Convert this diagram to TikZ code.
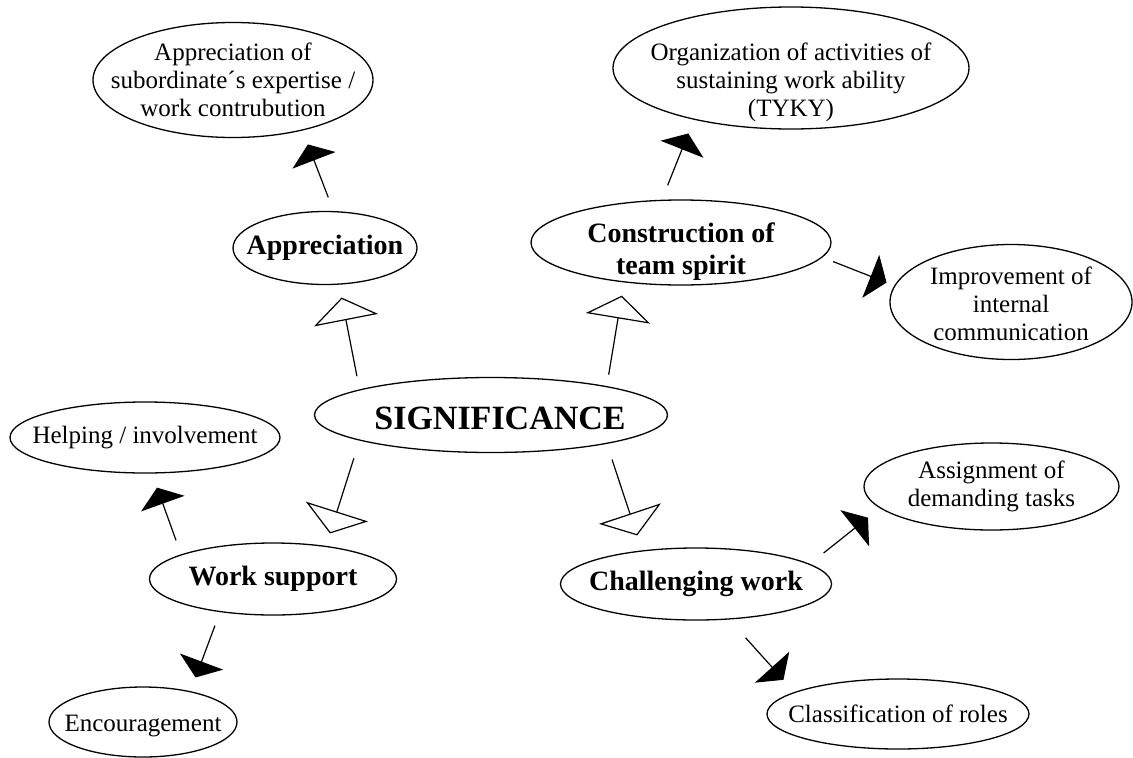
\documentclass[tikz,border=0pt]{standalone}
\usepackage{fontspec}
\setmainfont{Liberation Serif}
\usetikzlibrary{shapes.geometric,arrows.meta}
\tikzset{
  bubble/.style={draw,ellipse,line width=1.3pt,inner sep=0pt},
  smalltxt/.style={align=center,font=\fontsize{25}{28}\selectfont},
  bigtxt/.style={align=center,font=\fontsize{28}{32}\selectfont\bfseries},
  openarr/.style={line width=1.2pt,-{Triangle[open,width=65pt,length=23pt]}},
  fillarr/.style={line width=1.2pt,-{Triangle[width=46pt,length=17pt]}}
}
\begin{document}
\begin{tikzpicture}[x=1pt,y=-1pt]
\useasboundingbox (0,0) rectangle (1133,758);
% centre
\node[bubble,minimum width=353pt,minimum height=75pt,
  label={[bigtxt,font=\fontsize{34}{40}\selectfont\bfseries,xshift=9pt,yshift=-3pt]center:SIGNIFICANCE}] (sig) at (491,415) {};
% second level
\node[bubble,minimum width=184pt,minimum height=73pt,label={[bigtxt]center:Appreciation}] (app) at (325,248) {};
\node[bubble,minimum width=300pt,minimum height=85pt,label={[bigtxt,yshift=-9pt]center:Construction of\\team spirit}] (cons) at (681,242.5) {};
\node[bubble,minimum width=247pt,minimum height=72pt,label={[bigtxt]center:Work support}] (work) at (273,579) {};
\node[bubble,minimum width=271pt,minimum height=72pt,label={[bigtxt]center:Challenging work}] (chal) at (696,584) {};
% third level
\node[bubble,minimum width=280pt,minimum height=115pt,
  label={[smalltxt]center:Appreciation of\\subordinate´s expertise /\\work contrubution}] (sub) at (233,80) {};
\node[bubble,minimum width=356pt,minimum height=122pt,
  label={[smalltxt,yshift=-14pt]center:Organization of activities of\\sustaining work ability\\(TYKY)}] (org) at (791,68) {};
\node[bubble,minimum width=242pt,minimum height=115pt,
  label={[smalltxt,yshift=-2pt]center:Improvement of\\internal\\communication}] (imp) at (1011,302) {};
\node[bubble,minimum width=270pt,minimum height=71pt,label={[smalltxt]center:Helping / involvement}] (help) at (145,437.5) {};
\node[bubble,minimum width=188pt,minimum height=70pt,label={[smalltxt,yshift=-4pt]center:Encouragement}] (enc) at (143,722) {};
\node[bubble,minimum width=255pt,minimum height=87pt,
  label={[smalltxt]center:Assignment of\\demanding tasks}] (assign) at (991.5,486.5) {};
\node[bubble,minimum width=262pt,minimum height=70pt,label={[smalltxt]center:Classification of roles}] (class) at (898,714) {};
% open arrows from the centre
\draw[openarr,shorten <=13.5pt,shorten >=13.1pt] (sig.169) -- (app.291);
\draw[openarr,shorten <=11.6pt,shorten >=13.4pt] (sig.14) -- (cons.215);
\draw[openarr,shorten <=18.6pt,shorten >=13pt] (sig.191) -- (work.32);
\draw[openarr,shorten <=16.6pt,shorten >=15.7pt] (sig.346) -- (chal.148);
% filled arrows
\draw[fillarr,shorten <=14.6pt,shorten >=14.9pt] (app.77) -- (sub.324);
\draw[fillarr,shorten <=15.4pt,shorten >=14.8pt] (cons.114) -- (org.208);
\draw[fillarr,shorten <=11.5pt,shorten >=8.3pt] (cons.354) -- (imp.172);
\draw[fillarr,shorten <=14.9pt,shorten >=14.9pt] (work.165) -- (help.281);
\draw[fillarr,shorten <=14.4pt,shorten >=14.6pt] (work.212) -- (enc.33);
\draw[fillarr,shorten <=17.5pt,shorten >=15.2pt] (chal.10) -- (assign.191);
\draw[fillarr,shorten <=24.6pt,shorten >=16.4pt] (chal.313) -- (class.168);
\end{tikzpicture}
\end{document}
